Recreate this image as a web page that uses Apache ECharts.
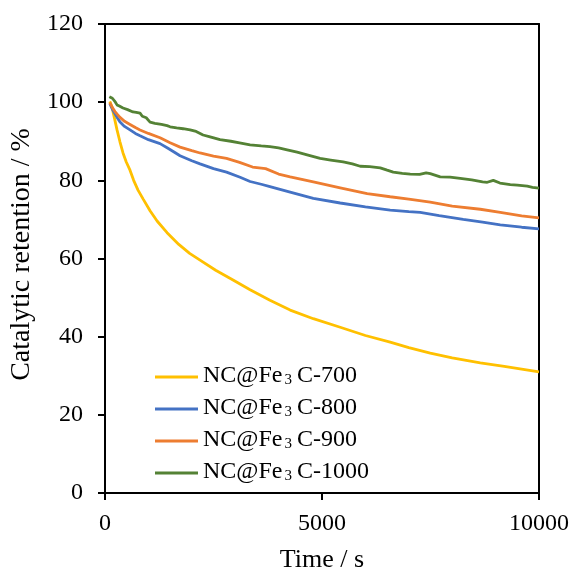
<!DOCTYPE html>
<html>
<head>
<meta charset="utf-8">
<script src="https://cdn.jsdelivr.net/npm/echarts@6/dist/echarts.min.js"></script>
<style>html,body{margin:0;padding:0;background:#fff}#c{width:574px;height:572px}</style>
</head>
<body>
<div id="c"></div>
<script>
var seriesNames = ['NC@Fe3C-700', 'NC@Fe3C-800', 'NC@Fe3C-900', 'NC@Fe3C-1000'];
var xTicks = [0, 5000, 10000];
var yTicks = [0, 20, 40, 60, 80, 100, 120];

var s700 = [[110,100.2],[160,98.8],[220,95.8],[277,92.9],[346,89.8],[415,87],[490,84.7],[576,82.6],[660,80],[761,77.5],[880,75.2],[1038,72.2],[1200,69.6],[1430,66.6],[1700,63.6],[1950,61.3],[2190,59.6],[2550,57],[2950,54.5],[3343,52],[3800,49.3],[4266,46.8],[4800,44.6],[5419,42.4],[6000,40.3],[6571,38.6],[7000,37.2],[7494,35.8],[8000,34.6],[8647,33.3],[9200,32.4],[9600,31.7],[10000,31.0]];
var s800 = [[110,99.6],[170,98.2],[230,97.0],[290,95.9],[346,94.9],[450,93.8],[576,92.9],[700,92.0],[807,91.4],[1000,90.4],[1268,89.4],[1450,88.2],[1600,87.2],[1729,86.3],[2000,85.0],[2190,84.2],[2500,83.0],[2800,82.1],[3113,80.8],[3343,79.7],[3600,79.0],[3800,78.4],[4266,77.0],[4800,75.4],[5419,74.2],[6000,73.2],[6571,72.4],[7000,72.0],[7263,71.8],[7700,71.0],[8254,70.0],[8700,69.3],[9108,68.6],[9600,68.0],[10000,67.6]];
var s900 = [[110,99.9],[170,98.6],[230,97.6],[290,96.8],[346,96.1],[450,95.1],[576,94.3],[700,93.5],[807,92.9],[1000,92.0],[1268,90.9],[1500,89.6],[1729,88.5],[2000,87.6],[2190,87.0],[2500,86.2],[2800,85.6],[3100,84.6],[3400,83.4],[3700,83.0],[4000,81.6],[4266,80.9],[4800,79.6],[5419,78.1],[6041,76.6],[6571,75.8],[7000,75.2],[7494,74.4],[8000,73.4],[8647,72.6],[9108,71.8],[9600,70.9],[10000,70.4]];
var s1000 = [[100,101.4],[115,101.9],[140,101.6],[170,101.0],[200,100.8],[240,100.0],[277,99.3],[330,99.0],[415,98.5],[520,98.1],[645,97.5],[720,97.4],[807,97.2],[860,96.4],[950,96.0],[1038,94.9],[1150,94.6],[1300,94.3],[1430,94.0],[1500,93.7],[1650,93.4],[1800,93.2],[1960,92.9],[2100,92.5],[2260,91.6],[2400,91.2],[2650,90.4],[2900,90.0],[3100,89.6],[3343,89.1],[3600,88.8],[3800,88.6],[4000,88.3],[4197,87.8],[4427,87.2],[4700,86.4],[4957,85.6],[5200,85.2],[5488,84.7],[5700,84.2],[5880,83.6],[6100,83.5],[6341,83.2],[6500,82.6],[6641,82.1],[6850,81.8],[7033,81.6],[7250,81.5],[7400,81.9],[7494,81.7],[7724,80.9],[7950,80.8],[8185,80.5],[8450,80.1],[8700,79.6],[8808,79.5],[8947,80.0],[9100,79.3],[9338,78.9],[9500,78.8],[9730,78.5],[9850,78.2],[10000,78.0]];

var colors = ['#FFC000', '#4472C4', '#ED7D31', '#548235'];
var dataSets = [s700, s800, s900, s1000];

var FONT = '"Liberation Serif", "Times New Roman", serif';
var chart = echarts.init(document.getElementById('c'), null, {renderer: 'canvas'});

function legendFmt(name) {
  var m = name.match(/^NC@Fe3C-(\d+)$/);
  return '{a|NC@Fe}{s|3}{a|C-' + m[1] + '}';
}

var option = {
  backgroundColor: '#fff',
  animation: false,
  color: colors,
  grid: {left: 105, right: 35, top: 24, bottom: 79, outerBoundsMode: 'none', containLabel: false},
  legend: {
    orient: 'vertical',
    left: 155,
    top: 364,
    padding: 0,
    itemWidth: 43,
    itemHeight: 3,
    itemGap: 8,
    textGap: 3,
    icon: 'rect',
    data: seriesNames,
    formatter: legendFmt,
    textStyle: {
      fontFamily: FONT,
      color: '#000',
      rich: {
        a: {fontFamily: FONT, fontSize: 24, color: '#000', lineHeight: 22, verticalAlign: 'bottom'},
        s: {fontFamily: FONT, fontSize: 15, color: '#000', lineHeight: 14, verticalAlign: 'bottom', padding: [0, 5, 0, 2]}
      }
    }
  },
  xAxis: [{
    type: 'value', min: 0, max: 10000, interval: 5000,
    name: 'Time / s', nameLocation: 'middle', nameGap: 54,
    nameTextStyle: {fontFamily: FONT, fontSize: 26, color: '#000'},
    axisLine: {show: true, onZero: false, lineStyle: {color: '#000', width: 2}},
    axisTick: {show: true, inside: false, length: 7, lineStyle: {color: '#000', width: 2}},
    axisLabel: {fontFamily: FONT, fontSize: 24, color: '#000', margin: 19,
      formatter: function (v) { return xTicks.indexOf(v) >= 0 ? String(v) : ''; }},
    splitLine: {show: false}
  }, {
    type: 'value', position: 'top', min: 0, max: 10000,
    axisLine: {show: true, onZero: false, lineStyle: {color: '#000', width: 2}},
    axisTick: {show: false}, axisLabel: {show: false}, splitLine: {show: false}
  }],
  yAxis: [{
    type: 'value', min: 0, max: 120, interval: 20,
    name: 'Catalytic retention / %', nameLocation: 'middle', nameGap: 66,
    nameTextStyle: {fontFamily: FONT, fontSize: 28, color: '#000', padding: [0, 0, 0, 8]},
    axisLine: {show: true, onZero: false, lineStyle: {color: '#000', width: 2}},
    axisTick: {show: true, inside: false, length: 7, lineStyle: {color: '#000', width: 2}},
    axisLabel: {fontFamily: FONT, fontSize: 24, color: '#000', margin: 22,
      formatter: function (v) { return yTicks.indexOf(v) >= 0 ? String(v) : ''; }},
    splitLine: {show: false}
  }, {
    type: 'value', position: 'right', min: 0, max: 120,
    axisLine: {show: true, onZero: false, lineStyle: {color: '#000', width: 2}},
    axisTick: {show: false}, axisLabel: {show: false}, splitLine: {show: false}
  }],
  series: seriesNames.map(function (n, i) {
    return {
      name: n, type: 'line', data: dataSets[i], showSymbol: false, symbol: 'none',
      lineStyle: {width: 2.8, color: colors[i]}, itemStyle: {color: colors[i]},
      z: 2 + i
    };
  })
};
chart.setOption(option);
</script>
</body>
</html>
